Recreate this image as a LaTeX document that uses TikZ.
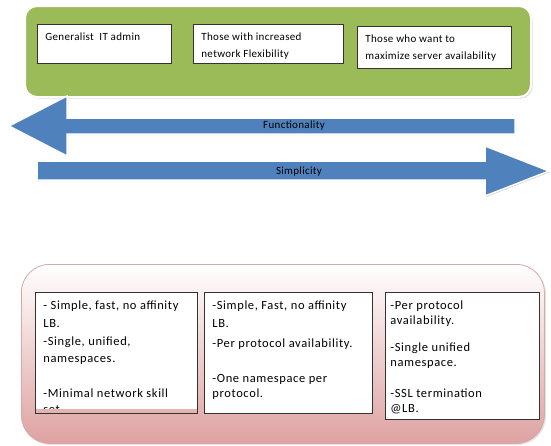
\documentclass[tikz,border=0pt]{standalone}
\usepackage{fontspec}
\newfontfamily\rolefont[LetterSpace=3]{Carlito}
\newfontfamily\listfont[LetterSpace=5]{Carlito}
\usetikzlibrary{shadows}
\definecolor{panelgreen}{HTML}{9BBB59}
\definecolor{arrowblue}{HTML}{4F81BD}
\definecolor{pinkedge}{HTML}{D8A8A8}
\definecolor{pinkbottom}{HTML}{DEA2A1}

\begin{document}
\begin{tikzpicture}[x=1pt,y=-1pt,
  greenpanel/.style={fill=panelgreen, draw=white, line width=2pt, rounded corners=12pt,
    drop shadow={shadow xshift=1.5pt, shadow yshift=-1.5pt, fill=black!30}},
  pinkpanel/.style={top color=white, bottom color=pinkbottom, draw=pinkedge, line width=0.8pt,
    rounded corners=28pt, drop shadow={shadow xshift=1.5pt, shadow yshift=-1.5pt, fill=black!20}},
  rolebox/.style={draw=black!80, line width=0.8pt, fill=white, anchor=north west,
    inner xsep=8pt, inner ysep=8.5pt, font=\rolefont\fontsize{11}{16.5}\selectfont},
  listbox/.style={draw=black!80, line width=0.8pt, fill=white, anchor=north west,
    inner xsep=8pt, inner ysep=8pt, font=\listfont\fontsize{12.5}{17}\selectfont},
  bluearrow/.style={fill=arrowblue, draw=white, line width=1.5pt,
    drop shadow={shadow xshift=1pt, shadow yshift=-1.2pt, fill=black!35}},
  arrowlabel/.style={inner sep=0pt, font=\rolefont\fontsize{11}{13}\selectfont}]
  \useasboundingbox (0,0) rectangle (551,445);

  \node[greenpanel, minimum width=506pt, minimum height=91pt, anchor=north west] (roles) at (24,5) {};
  \node[rolebox] (admin) at (37,24) {\parbox[t][22pt][t]{118pt}{Generalist\ \ IT admin}};
  \node[rolebox] (netflex) at (193,24) {\parbox[t][22pt][t]{134pt}{Those with increased\\network Flexibility}};
  \node[rolebox] (uptime) at (357,26) {\parbox[t][25pt][t]{138pt}{Those who want to\\maximize server availability}};

  \draw[bluearrow] (515,118) -- (67,118) -- (67,96) -- (9,126) -- (67,156) -- (67,134) -- (515,134) -- cycle;
  \node[arrowlabel] (func) at (294,126) {Functionality};
  \draw[bluearrow] (37,161) -- (485,161) -- (485,146) -- (549,171) -- (485,196) -- (485,180) -- (37,180) -- cycle;
  \node[arrowlabel] (simp) at (299,171.5) {Simplicity};

  \node[pinkpanel, minimum width=523pt, minimum height=179pt, anchor=north west] (traits) at (21,264) {};
  \begin{scope}
    \clip (34,291) rectangle (198,408);
    \node[listbox] (single) at (35,292) {\parbox[t][105pt][t]{146pt}{- Simple, fast, no affinity\\[1pt]
      LB.\\[1pt] -Single, unified,\\ namespaces.\\[18pt] -Minimal network skill\\[-1pt] set}};
  \end{scope}
  \draw[draw=black!80, line width=0.8pt] (single.north west) rectangle (single.south east);
  \node[listbox] (perproto) at (204,292) {\parbox[t][105pt][t]{152pt}{-Simple, Fast, no affinity\\[1pt]
    LB.\\[3pt] -Per protocol availability.\\[18pt] -One namespace per\\[-2pt] protocol.}};
  \node[listbox, inner xsep=5pt] (ssl) at (385,292) {\parbox[t][111pt][t]{144pt}{-Per protocol\\[-1.5pt]
    availability.\\[10pt] -Single unified\\[-2pt] namespace.\\[13.5pt] -SSL termination\\[-1.5pt] @LB.}};
\end{tikzpicture}
\end{document}
